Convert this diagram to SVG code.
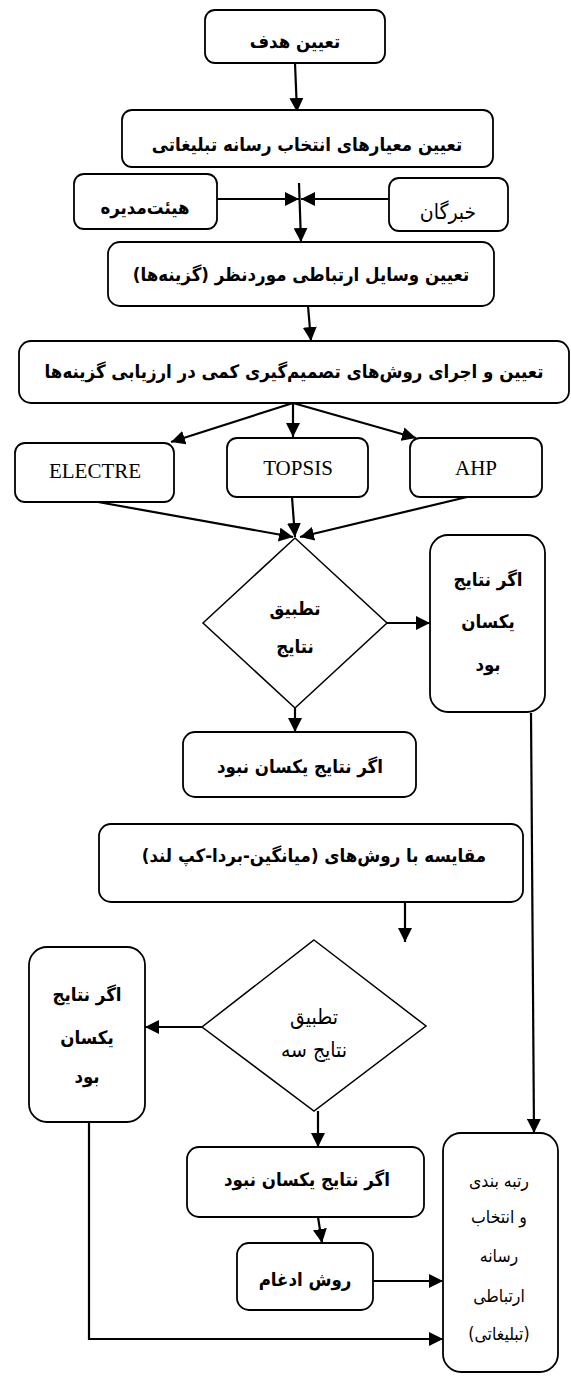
<svg xmlns="http://www.w3.org/2000/svg" width="571" height="1376" viewBox="0 0 571 1376">
<style>
.box{fill:#fff;stroke:#000;stroke-width:1.8}
.dia{fill:#fff;stroke:#000;stroke-width:1.5}
.fa{font-family:"DejaVu Sans Condensed","DejaVu Sans",sans-serif;font-stretch:condensed;font-size:18.5px;fill:#000;text-anchor:middle;direction:rtl}
.b{font-weight:bold}
.n1{font-size:21px}
.n2{font-size:17.5px}
.en{font-family:"Liberation Serif",serif;font-size:21px;fill:#000;text-anchor:middle}
.c line,.c polyline{stroke:#000;stroke-width:2.2;fill:none;marker-end:url(#ah)}
</style>
<defs>
<marker id="ah" markerWidth="14" markerHeight="14" refX="14" refY="7" orient="auto" markerUnits="userSpaceOnUse">
<path d="M0,0 L14,7 L0,14 Z" fill="#000"/>
</marker>
</defs>
<rect width="571" height="1376" fill="#fff"/>
<g id="connectors" class="c">
<line x1="295" y1="63" x2="297" y2="112"/>
<line x1="299" y1="183" x2="301" y2="242"/>
<line x1="217" y1="199" x2="299" y2="199"/>
<line x1="389" y1="199" x2="301" y2="199"/>
<line x1="308" y1="306" x2="311" y2="341"/>
<line x1="293" y1="403" x2="171" y2="442"/>
<line x1="293" y1="403" x2="293" y2="437"/>
<line x1="293" y1="403" x2="416" y2="438"/>
<line x1="98" y1="502" x2="293" y2="537"/>
<line x1="292" y1="497" x2="295" y2="537"/>
<line x1="467" y1="497" x2="300" y2="537"/>
<line x1="387" y1="623" x2="430" y2="623"/>
<line x1="295" y1="708" x2="295" y2="732"/>
<line x1="405" y1="902" x2="405" y2="942"/>
<line x1="531" y1="713" x2="534" y2="1133"/>
<line x1="202" y1="1027" x2="145" y2="1027"/>
<line x1="318" y1="1111" x2="318" y2="1147"/>
<line x1="318" y1="1217" x2="322" y2="1243"/>
<line x1="373" y1="1281" x2="443" y2="1281"/>
<polyline points="89,1122 89,1339 443,1339"/>
</g>
<g id="n1"><rect class="box" x="205" y="10" width="180" height="53" rx="10"/><text class="fa b" x="295" y="48">تعیین هدف</text></g>
<g id="n2"><rect class="box" x="122" y="110" width="371" height="57" rx="10"/><text class="fa b" x="307" y="151">تعیین معیارهای انتخاب رسانه تبلیغاتی</text></g>
<g id="n3"><rect class="box" x="74" y="174" width="143" height="55" rx="10"/><text class="fa b" x="145" y="214">هیئت‌مدیره</text></g>
<g id="n4"><rect class="box" x="389" y="178" width="119" height="53" rx="10"/><text class="fa n1" x="448" y="219">خبرگان</text></g>
<g id="n5"><rect class="box" x="108" y="242" width="386" height="64" rx="12"/><text class="fa b" x="301" y="281">تعیین وسایل ارتباطی موردنظر (گزینه‌ها)</text></g>
<g id="n6"><rect class="box" x="19" y="341" width="550" height="62" rx="12"/><text class="fa b" x="294" y="378">تعیین و اجرای روش‌های تصمیم‌گیری کمی در ارزیابی گزینه‌ها</text></g>
<g id="n7"><rect class="box" x="15" y="443" width="159" height="59" rx="10"/><text class="en" x="95" y="478">ELECTRE</text></g>
<g id="n8"><rect class="box" x="227" y="438" width="141" height="59" rx="10"/><text class="en" x="298" y="475">TOPSIS</text></g>
<g id="n9"><rect class="box" x="410" y="438" width="132" height="59" rx="10"/><text class="en" x="476" y="475">AHP</text></g>
<g id="n10"><polygon class="dia" points="295,538 387,623 295,708 203,623"/><text class="fa b" x="295" y="615">تطبیق</text><text class="fa b" x="295" y="653">نتایج</text></g>
<g id="n11"><rect class="box" x="430" y="535" width="115" height="177" rx="18"/><text class="fa b" x="488" y="586">اگر نتایج</text><text class="fa b" x="488" y="628">یکسان</text><text class="fa b" x="488" y="671">بود</text></g>
<g id="n12"><rect class="box" x="183" y="732" width="233" height="65" rx="12"/><text class="fa b" x="300" y="773">اگر نتایج یکسان نبود</text></g>
<g id="n13"><rect class="box" x="99" y="824" width="424" height="78" rx="12"/><text class="fa b" x="314" y="862">مقایسه با روش‌های (میانگین-بردا-کپ لند)</text></g>
<g id="n14"><polygon class="dia" points="314,940 426,1026 314,1111 202,1027"/><text class="fa n1" x="314" y="1024">تطبیق</text><text class="fa n1" x="314" y="1057">نتایج سه</text></g>
<g id="n15"><rect class="box" x="29" y="947" width="116" height="175" rx="18"/><text class="fa b" x="87" y="1001">اگر نتایج</text><text class="fa b" x="87" y="1044">یکسان</text><text class="fa b" x="87" y="1083">بود</text></g>
<g id="n16"><rect class="box" x="187" y="1147" width="237" height="70" rx="12"/><text class="fa b" x="307" y="1186">اگر نتایج یکسان نبود</text></g>
<g id="n17"><rect class="box" x="237" y="1243" width="136" height="67" rx="12"/><text class="fa b" x="305" y="1286">روش ادغام</text></g>
<g id="n18"><rect class="box" x="443" y="1133" width="115" height="239" rx="18"/><text class="fa n2" x="499" y="1187">رتبه بندی</text><text class="fa n2" x="499" y="1223">و انتخاب</text><text class="fa n2" x="499" y="1262">رسانه</text><text class="fa n2" x="499" y="1302">ارتباطی</text><text class="fa n2" x="499" y="1340">(تبلیغاتی)</text></g>
</svg>
